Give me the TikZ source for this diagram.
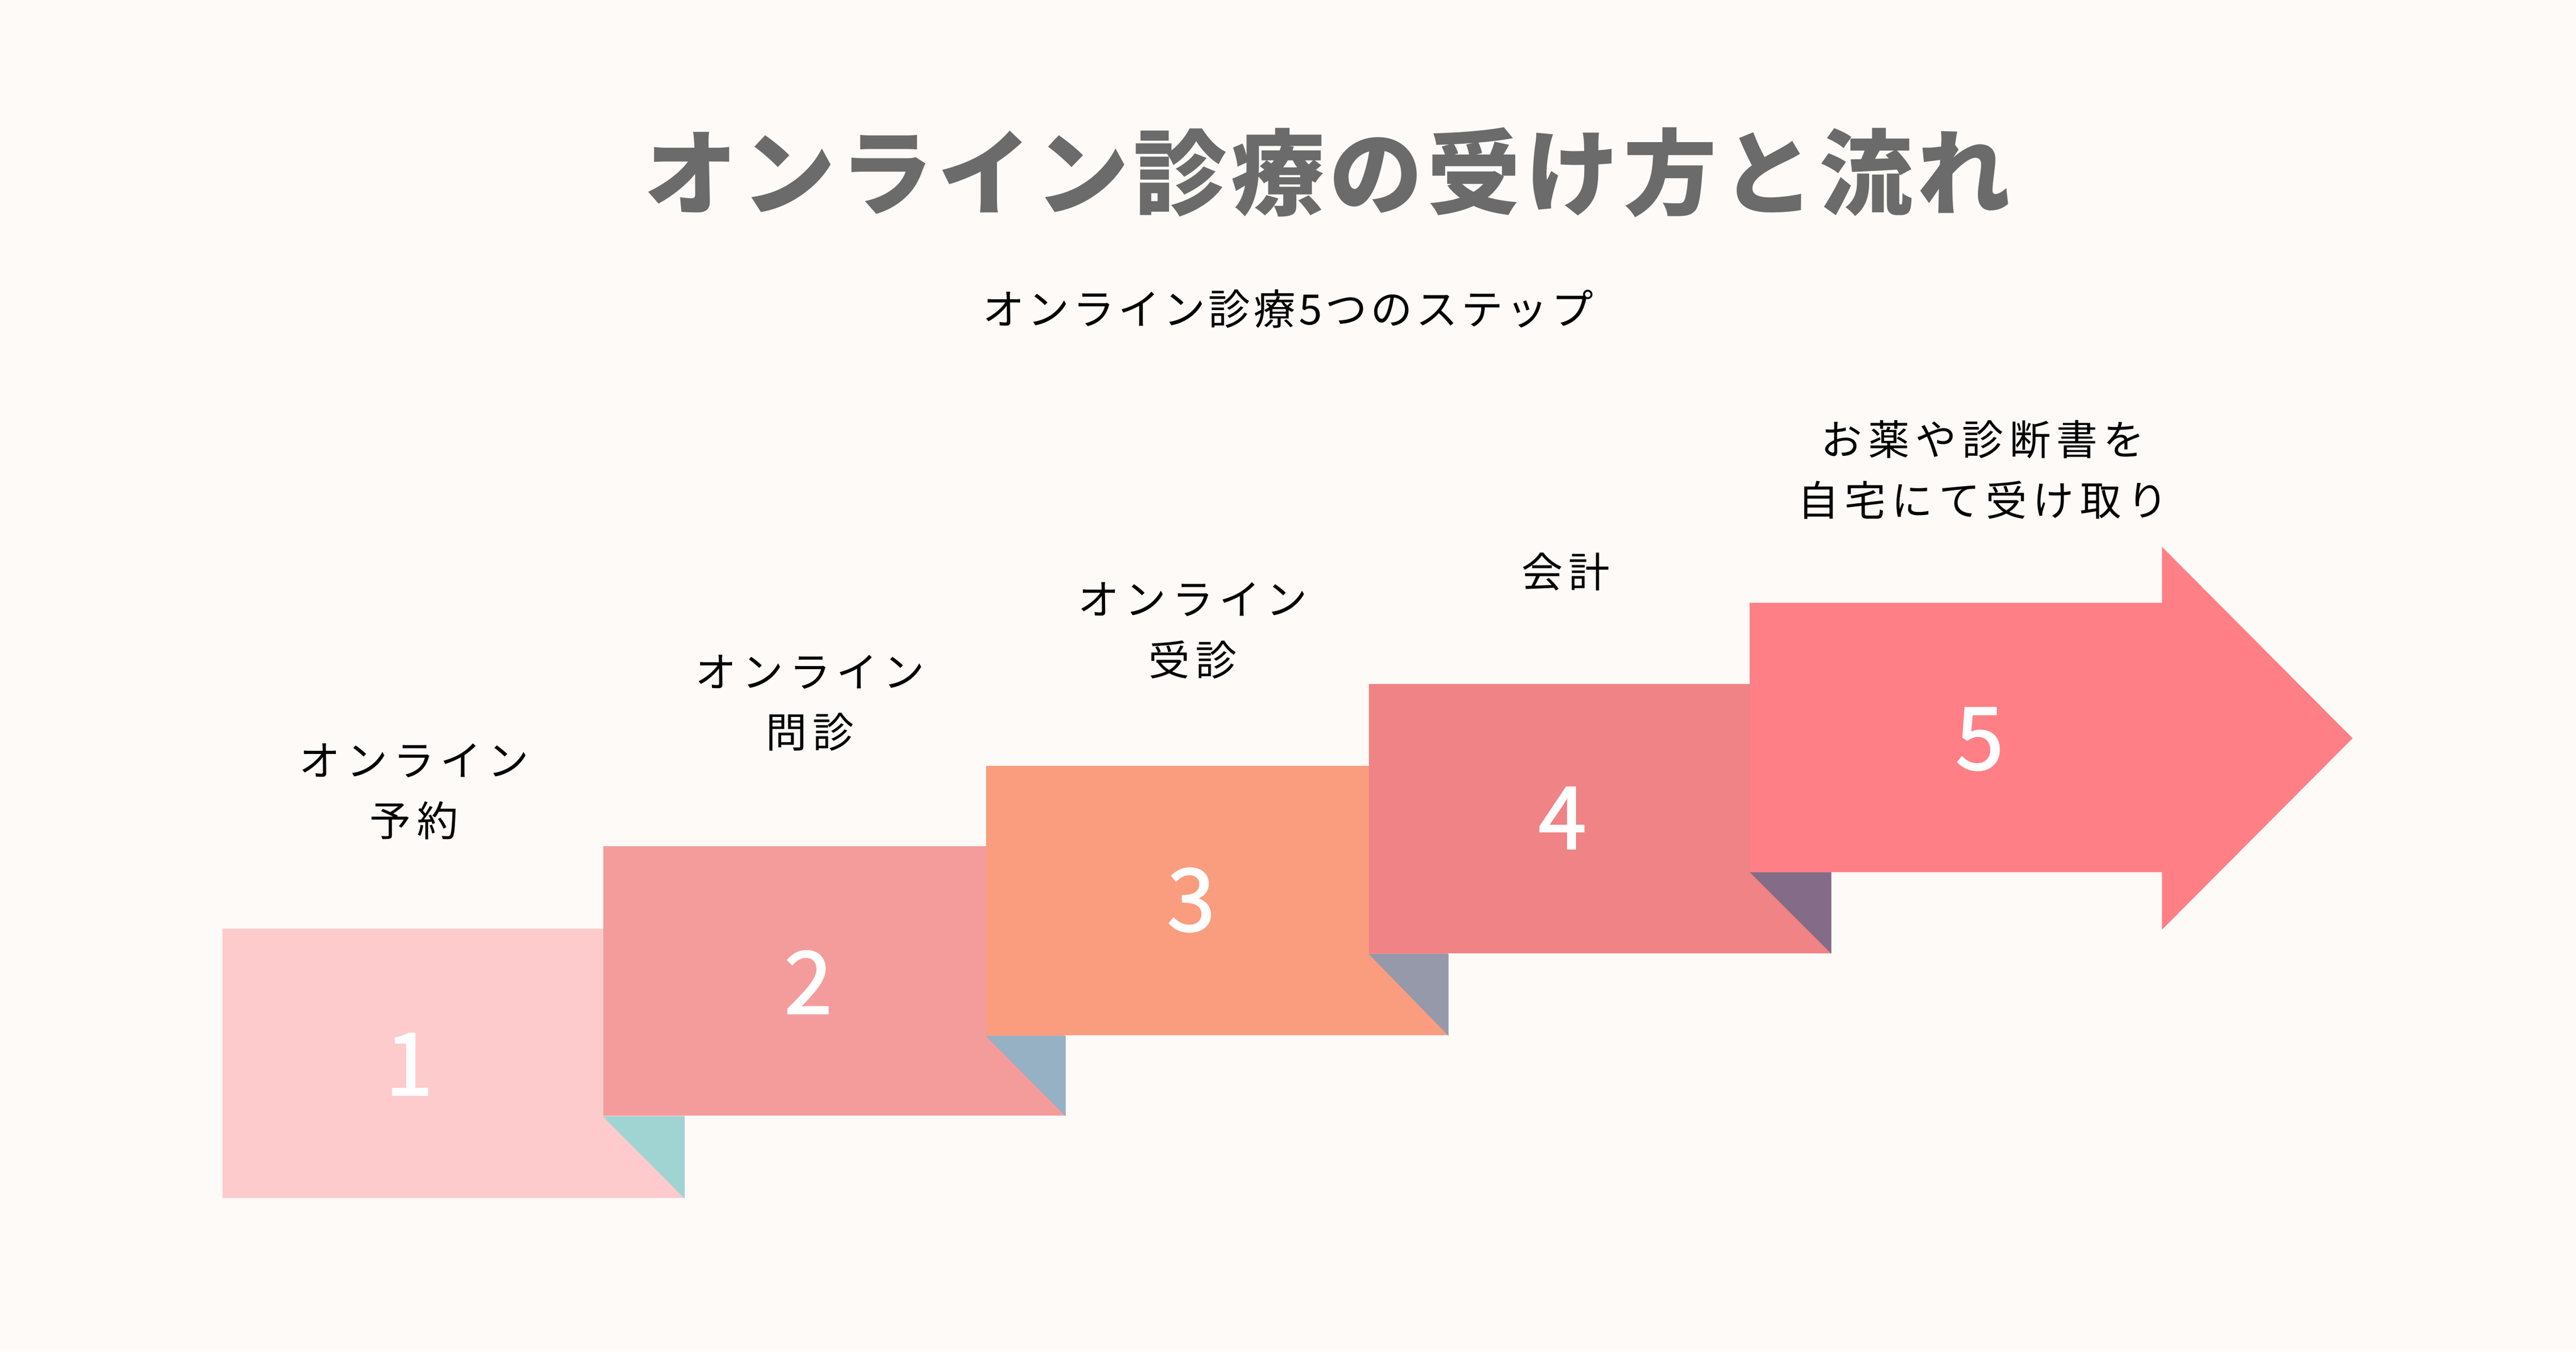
\documentclass[tikz,border=0pt]{standalone}
\usepackage{fontspec}
\setmainfont{Noto Sans CJK JP}
\newfontfamily\titlefont[LetterSpace=5]{Noto Sans CJK JP}
\newfontfamily\labelfont[LetterSpace=14]{Noto Sans CJK JP}
\newfontfamily\subfont[LetterSpace=8]{Noto Sans CJK JP}
\newfontfamily\numfont[FakeBold=1.6]{Noto Sans CJK JP}
\usetikzlibrary{positioning,calc}
\definecolor{bgcream}{HTML}{FEFAF7}
\definecolor{titlegray}{HTML}{6B6B6B}
\definecolor{boxA}{HTML}{FDCBCC}
\definecolor{boxB}{HTML}{F49C9C}
\definecolor{boxC}{HTML}{FA9D7E}
\definecolor{boxD}{HTML}{EF8385}
\definecolor{boxE}{HTML}{FF7F87}
\definecolor{foldA}{HTML}{A0D4D3}
\definecolor{foldB}{HTML}{96B1C3}
\definecolor{foldC}{HTML}{9599AA}
\definecolor{foldD}{HTML}{846C88}
\tikzset{
  stepbox/.style={rectangle,inner sep=0pt,anchor=north west,minimum width=56.2mm,minimum height=32.8mm},
  stepnum/.style={text=white,font=\numfont\fontsize{30}{30}\selectfont},
  steplabel/.style={align=center,text=black,font=\labelfont\fontsize{14.3}{21}\selectfont},
}
\begin{document}
\begin{tikzpicture}
[x=0.2mm,y=-0.2mm]
%% background
\fill[bgcream] (0,0) rectangle (1568,823);
%% titles
\node[text=titlegray,font=\titlefont\bfseries\fontsize{32.3}{32.3}\selectfont] (title) at (808,105) {オンライン診療の受け方と流れ};
\node[font=\subfont\fontsize{14.5}{14.5}\selectfont] (sub) at (784,188) {オンライン診療5つのステップ};
%% steps
\node[stepbox,fill=boxA] (b1) at (135,565) {};
\node[stepbox,fill=boxB] (b2) at (367,515) {};
\fill[foldA] (b2.south west) -- (b1.south east |- b2.south west) -- (b1.south east) -- cycle;
\node[stepbox,fill=boxB] (b2) at (367,515) {};
\node[stepbox,fill=boxC] (b3) at (600,466) {};
\fill[foldB] (b3.south west) -- (b2.south east |- b3.south west) -- (b2.south east) -- cycle;
\node[stepbox,fill=boxC] (b3) at (600,466) {};
\node[stepbox,fill=boxD] (b4) at (833,416) {};
\fill[foldC] (b4.south west) -- (b3.south east |- b4.south west) -- (b3.south east) -- cycle;
\node[stepbox,fill=boxD] (b4) at (833,416) {};
%% last step: arrow
\coordinate (a5) at (1065,531);
\fill[foldD] (a5) -- (b4.south east |- a5) -- (b4.south east) -- cycle;
\fill[boxE] (1065,367) -- (1316,367) -- (1316,333) -- (1432,449.5) -- (1316,566) -- (1316,531) -- (a5) -- cycle;
%% numbers
\node[stepnum] (n1) at (249,648) {1};
\node[stepnum] (n2) at (492,598) {2};
\node[stepnum] (n3) at (725,548) {3};
\node[stepnum] (n4) at (951,498) {4};
\node[stepnum] (n5) at (1205,450) {5};
%% labels
\node[steplabel] (l1) at (252,482) {オンライン\\予約};
\node[steplabel] (l2) at (493,428) {オンライン\\問診};
\node[steplabel] (l3) at (726,384) {オンライン\\受診};
\node[steplabel] (l4) at (953,348) {会計};
\node[steplabel] (l5) at (1207,286) {お薬や診断書を\\自宅にて受け取り};
\end{tikzpicture}
\end{document}
